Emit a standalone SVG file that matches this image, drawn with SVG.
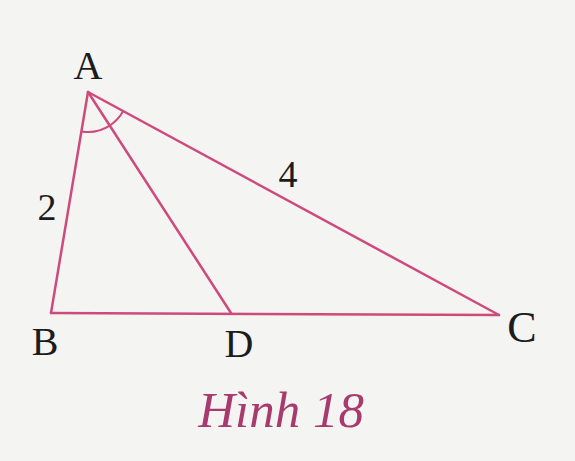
<svg xmlns="http://www.w3.org/2000/svg" width="575" height="461" viewBox="0 0 575 461">
  <style>
    .seg { stroke: #cf4a7c; stroke-width: 2.5; fill: none; stroke-linecap: round; }
    .arc { stroke: #cf4a7c; stroke-width: 2; fill: none; }
    .lbl { font-family: "Liberation Serif", "DejaVu Serif", serif; font-size: 40px; fill: #1c1c1c; text-anchor: middle; }
    .num { font-family: "Liberation Serif", "DejaVu Serif", serif; font-size: 38px; fill: #1c1c1c; text-anchor: middle; }
    .cap { font-family: "Liberation Serif", "DejaVu Serif", serif; font-size: 51px; font-style: italic; fill: #a83a6e; text-anchor: middle; }
  </style>
  <rect x="0" y="0" width="575" height="461" fill="#f4f4f2"/>
  <g id="connectors">
    <line class="seg" x1="88" y1="92" x2="51" y2="313"/>
    <line class="seg" x1="88" y1="92" x2="499" y2="315"/>
    <line class="seg" x1="51" y1="313" x2="499" y2="315"/>
    <line class="seg" x1="88" y1="92" x2="231" y2="313"/>
    <path class="arc" d="M81.4,131.4 A40,40 0 0 0 109.7,125.6"/>
    <path class="arc" d="M109.7,125.6 A40,40 0 0 0 123.2,111.1"/>
  </g>
  <g id="node-A"><text class="lbl" x="88" y="79">A</text></g>
  <g id="node-B"><text class="lbl" x="45" y="355">B</text></g>
  <g id="node-D"><text class="lbl" x="239" y="357">D</text></g>
  <g id="node-C"><text class="lbl" x="522" y="342" style="font-size:44px">C</text></g>
  <g id="label-AB"><text class="num" x="47" y="220">2</text></g>
  <g id="label-AC"><text class="num" x="288" y="187">4</text></g>
  <g id="caption"><text class="cap" x="281" y="427">Hình 18</text></g>
</svg>
